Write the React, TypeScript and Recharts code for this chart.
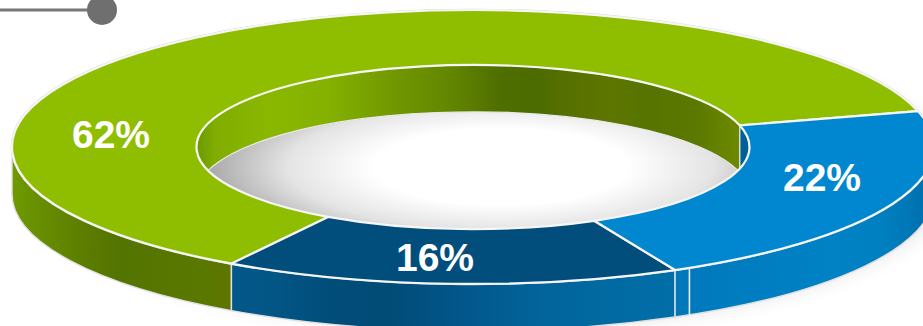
import { PieChart, Pie } from 'recharts';

const SEGMENT_NAMES = ['green', 'navy', 'blue'];
const SHARE_VALUES = [62, 16, 22];

const WIDTH = 923;
const HEIGHT = 326;
const CENTER_X = 473;
const CENTER_Y = 147;
const OUTER_RADIUS = 461;
const INNER_RADIUS = 276.5;
const FIRST_ANGLE = 15.2;
// vertical squash of the tilted ring, and how far its walls hang down
const TILT = 0.297;
const DEPTH = 47;

const TOP_COLORS: Record<string, string> = { green: '#8fbe00', navy: '#014d7c', blue: '#0087d0' };
const LABEL_SPOTS: Record<string, [number, number]> = {
  green: [111, 148],
  navy: [435, 271],
  blue: [822, 191],
};

// [x in px, colour] stops for the banded wall shading
const OUTER_WALL_BANDS: Record<string, [number, string][]> = {
  green: [[12, '#6f9a00'], [40, '#678e00'], [70, '#608300'], [90, '#5a7a00'], [120, '#537400'], [200, '#597800'], [233, '#5f7500']],
  navy: [[233, '#02588a'], [270, '#025686'], [340, '#014c78'], [390, '#014b77'], [460, '#02568a'], [540, '#02649b'], [672, '#016ea8']],
  blue: [[600, '#0072ae'], [700, '#007abd'], [830, '#0082c5'], [880, '#0080c0'], [923, '#0072b0']],
};
const INNER_WALL_BANDS: Record<string, [number, string][]> = {
  green: [[197, '#6c9a00'], [215, '#80ad00'], [270, '#8ab800'], [330, '#84b000'], [400, '#6f9600'], [450, '#638600'], [500, '#4f6e00'], [540, '#4c6b00'], [560, '#557000'], [610, '#5e7600'], [650, '#567400'], [700, '#5c7a00'], [739, '#6e8a00']],
  navy: [[197, '#014b77'], [750, '#014b77']],
  blue: [[739, '#005f98'], [750, '#005f98']],
};

const tableData = SEGMENT_NAMES.map((name, i) => ({ name, value: SHARE_VALUES[i] }));

const project = (cx: number, cy: number, r: number, deg: number, drop = 0) => {
  const a = (deg * Math.PI) / 180;
  return [cx + r * Math.cos(a), cy - r * TILT * Math.sin(a) + drop];
};

// elliptical arc continuing from the current point to the given angle
const arcTo = (cx: number, cy: number, r: number, from: number, to: number, drop = 0) => {
  const [x, y] = project(cx, cy, r, to, drop);
  const large = Math.abs(to - from) > 180 ? 1 : 0;
  const sweep = to > from ? 0 : 1;
  return `A ${r} ${r * TILT} 0 ${large} ${sweep} ${x} ${y}`;
};

const wallPath = (cx: number, cy: number, r: number, lo: number, hi: number) => {
  const [x0, y0] = project(cx, cy, r, lo);
  const [x1, y1] = project(cx, cy, r, hi, DEPTH);
  return `M ${x0} ${y0} ${arcTo(cx, cy, r, lo, hi)} L ${x1} ${y1} ${arcTo(cx, cy, r, hi, lo, DEPTH)} Z`;
};

const RingSegment = (props: any) => {
  const { cx, cy, innerRadius, outerRadius, startAngle, endAngle } = props;
  const name: string = props.payload?.name ?? props.name;
  const s = Math.min(startAngle, endAngle);
  const e = Math.max(startAngle, endAngle);

  const outerLo = Math.max(s, 180);
  const outerHi = Math.min(e, 360);
  const innerLo = e > 360 ? Math.max(s, 360) : s;
  const innerHi = e > 360 ? e : Math.min(e, 180);

  const [ox0, oy0] = project(cx, cy, outerRadius, s);
  const [ix1, iy1] = project(cx, cy, innerRadius, e);
  const top = `M ${ox0} ${oy0} ${arcTo(cx, cy, outerRadius, s, e)} L ${ix1} ${iy1} ${arcTo(cx, cy, innerRadius, e, s)} Z`;
  const rim = `M ${ox0} ${oy0} ${arcTo(cx, cy, outerRadius, s, e)}`;

  // short seam on the blue wall, just past its first edge
  const seam = name === 'blue' ? project(cx, cy, outerRadius, s + 2) : null;
  const seamEnd = name === 'blue' ? project(cx, cy, outerRadius, s + 2, DEPTH) : null;

  return (
    <g>
      <clipPath id={`hole-${name}`}>
        <ellipse cx={cx} cy={cy} rx={innerRadius} ry={innerRadius * TILT} />
      </clipPath>
      {innerLo < innerHi && (
        <path
          d={wallPath(cx, cy, innerRadius, innerLo, innerHi)}
          clipPath={`url(#hole-${name})`}
          fill={`url(#inner-${name})`}
          stroke="#e8e8e8"
          strokeWidth={1.2}
        />
      )}
      {outerLo < outerHi && (
        <path
          d={wallPath(cx, cy, outerRadius, outerLo, outerHi)}
          fill={`url(#outer-${name})`}
          stroke="#e0e0e0"
          strokeWidth={1.4}
        />
      )}
      {seam && seamEnd && (
        <line x1={seam[0]} y1={seam[1]} x2={seamEnd[0]} y2={seamEnd[1]} stroke="#eeeeee" strokeWidth={1.6} />
      )}
      <path d={rim} fill="none" stroke="#cfcfcf" strokeWidth={2.6} />
      <path d={top} fill={TOP_COLORS[name]} stroke="#f6f6f6" strokeWidth={2.2} strokeLinejoin="round" />
    </g>
  );
};

const renderShareLabel = (props: any) => {
  const name: string = props.payload?.name ?? props.name;
  const [x, y] = LABEL_SPOTS[name];
  return (
    <text
      x={x}
      y={y}
      textAnchor="middle"
      fill="#ffffff"
      fontFamily="'Liberation Sans', Arial, sans-serif"
      fontWeight={700}
      fontSize={39}
    >
      {`${props.value}%`}
    </text>
  );
};

const bandGradient = (id: string, bands: [number, string][]) => (
  <linearGradient key={id} id={id} gradientUnits="userSpaceOnUse" x1={0} y1={0} x2={WIDTH} y2={0}>
    {bands.map(([x, color]) => (
      <stop key={x} offset={x / WIDTH} stopColor={color} />
    ))}
  </linearGradient>
);

const App = () => (
  <div style={{ position: 'absolute', left: 0, top: 0, width: WIDTH, height: HEIGHT, overflow: 'hidden', background: '#ffffff' }}>
    <PieChart width={WIDTH} height={HEIGHT} margin={{ top: 0, right: 0, bottom: 0, left: 0 }}>
      <defs>
        {SEGMENT_NAMES.map(name => bandGradient(`outer-${name}`, OUTER_WALL_BANDS[name]))}
        {SEGMENT_NAMES.map(name => bandGradient(`inner-${name}`, INNER_WALL_BANDS[name]))}
        <radialGradient id="hole-shade" cx={0.55} cy={0.62} r={0.55}>
          <stop offset={0} stopColor="#ffffff" />
          <stop offset={0.42} stopColor="#ffffff" />
          <stop offset={0.7} stopColor="#e4e4e4" />
          <stop offset={1} stopColor="#a0a0a0" />
        </radialGradient>
        <filter id="soft-shadow" x="-10%" y="-20%" width="120%" height="140%">
          <feGaussianBlur stdDeviation={12} />
        </filter>
      </defs>

      {/* drop shadow below the ring, then the floor seen through the hole */}
      <ellipse cx={488} cy={176} rx={456} ry={146} fill="#000000" opacity={0.2} filter="url(#soft-shadow)" />
      <ellipse cx={CENTER_X} cy={CENTER_Y} rx={INNER_RADIUS} ry={INNER_RADIUS * TILT} fill="url(#hole-shade)" />

      <Pie
        data={tableData}
        dataKey="value"
        nameKey="name"
        cx={CENTER_X}
        cy={CENTER_Y}
        innerRadius={INNER_RADIUS}
        outerRadius={OUTER_RADIUS}
        startAngle={FIRST_ANGLE}
        endAngle={FIRST_ANGLE + 360}
        shape={RingSegment}
        label={renderShareLabel}
        labelLine={false}
        isAnimationActive={false}
      />

      {/* callout stub in the top corner */}
      <line x1={0} y1={10} x2={90} y2={10} stroke="#777777" strokeWidth={3} />
      <circle cx={102} cy={10} r={15} fill="#6f6f6f" />
    </PieChart>
  </div>
);

export default App;
